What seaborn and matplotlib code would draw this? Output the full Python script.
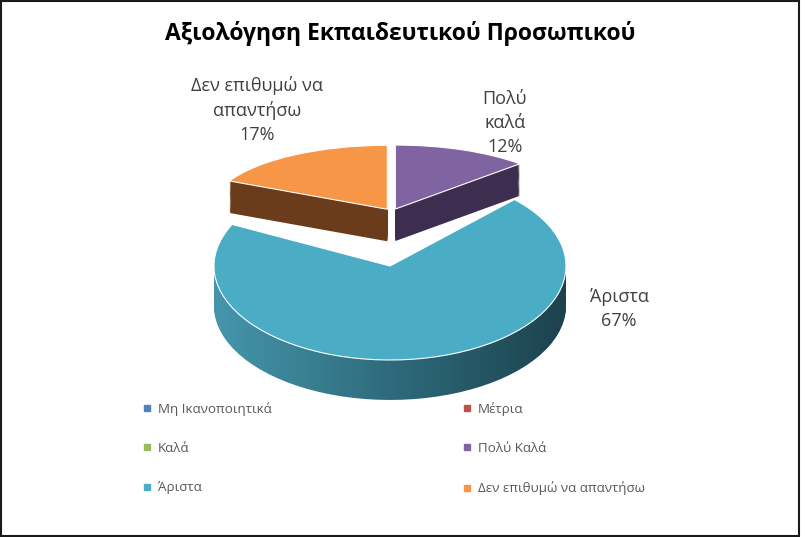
import numpy as np
import matplotlib
matplotlib.use("Agg")
import matplotlib.pyplot as plt
from matplotlib.lines import Line2D
from matplotlib.patches import Rectangle
from matplotlib.colors import LinearSegmentedColormap
import seaborn as sns

sns.set_theme(style="white")
plt.rcParams['font.family'] = ['Open Sans', 'DejaVu Sans']

title = "Αξιολόγηση Εκπαιδευτικού Προσωπικού"
categories = ["Μη Ικανοποιητικά", "Μέτρια", "Καλά", "Πολύ Καλά", "Άριστα", "Δεν επιθυμώ να απαντήσω"]
percent = [0, 0, 0, 12, 67, 17]
slice_labels = ["", "", "", "Πολύ\nκαλά\n12%", "Άριστα\n67%", "Δεν επιθυμώ να\nαπαντήσω\n17%"]

top_colors = ["#4F81BD", "#C0504D", "#9BBB59", "#8064A2", "#4BACC6", "#F79646"]
side_colors = ["#2C4D75", "#772C2A", "#5F7530", "#3D2D4F", "#2D6D80", "#6A3C1C"]
teal_side = LinearSegmentedColormap.from_list("side", ["#4596AC", "#2E6B7C", "#1C424D"])

# only non-zero slices are drawn
idx = [i for i, v in enumerate(percent) if v > 0]
vals = [percent[i] for i in idx]

W, H = 801, 537
fig = plt.figure(figsize=(W / 100, H / 100), dpi=100)


def make_ax(cx, cy, rx, ry):
    # full-figure axes, pie centre at pixel (cx, cy), ellipse radii rx, ry
    ax = fig.add_axes([0, 0, 1, 1])
    ax.patch.set_visible(False)
    ax.lims = ((-cx / rx, (W - cx) / rx), (-(H - cy) / ry, cy / ry))
    return ax


def pie3d(ax, show, explode, depth, n=30, gradient=None):
    for d in np.linspace(depth, 0, n, endpoint=False):
        wedges, _ = ax.pie(vals, colors=[side_colors[i] for i in idx], startangle=90,
                           counterclock=False, explode=explode, center=(0, -d),
                           wedgeprops=dict(linewidth=0))
        for w, s in zip(wedges, show):
            if not s:
                w.remove()
            elif gradient is not None:
                w.set_facecolor("none")
                im = ax.imshow(np.linspace(0, 1, 256).reshape(1, -1), cmap=gradient,
                               extent=(-1, 1, -2, 1), aspect="auto", zorder=0)
                im.set_clip_path(w)
    wedges, _ = ax.pie(vals, colors=[top_colors[i] for i in idx], startangle=90,
                       counterclock=False, explode=explode, center=(0, 0),
                       wedgeprops=dict(linewidth=0.8, edgecolor="white"))
    for w, s in zip(wedges, show):
        if not s:
            w.remove()
    ax.set_aspect("auto")
    ax.set_xlim(*ax.lims[0])
    ax.set_ylim(*ax.lims[1])
    ax.axis("off")


# back slices (Πολύ καλά, Δεν επιθυμώ) - flatter for perspective
ax_back = make_ax(392, 212, 176, 64)
pie3d(ax_back, [v < 50 for v in vals], [0.05 if v < 50 else 0 for v in vals], 0.5)

# front slice (Άριστα)
ax_front = make_ax(390, 266, 176, 94)
pie3d(ax_front, [v > 50 for v in vals], [0] * len(vals), 0.425, gradient=teal_side)

# data labels
label_pos = {3: (505, 123), 4: (619, 309), 5: (257, 110)}
for i, (px, py) in label_pos.items():
    fig.text(px / W, 1 - py / H, slice_labels[i], ha="center", va="center",
             fontsize=13, color="#404040", linespacing=1.4)

fig.text(400 / W, 1 - 33 / H, title, ha="center", va="center",
         fontsize=16.5, fontweight="bold", color="black")

# legend, row-wise order
handles = [Line2D([], [], marker="s", linestyle="", markersize=4,
                  color=top_colors[i]) for i in range(len(categories))]
order = [0, 2, 4, 1, 3, 5]
fig.legend([handles[i] for i in order], [categories[i] for i in order],
           ncol=2, loc="upper left", bbox_to_anchor=(131 / W, 1 - 390 / H),
           frameon=False, fontsize=9.6, labelcolor="#595959",
           handlelength=0.6, handletextpad=0.5, labelspacing=1.97,
           columnspacing=14.4)

# chart border
fig.patches.append(Rectangle((0.001, 0.001), 0.997, 0.997, transform=fig.transFigure,
                             fill=False, edgecolor="#1a1a1a", linewidth=1.5))

fig.savefig("out.png", dpi=100)
